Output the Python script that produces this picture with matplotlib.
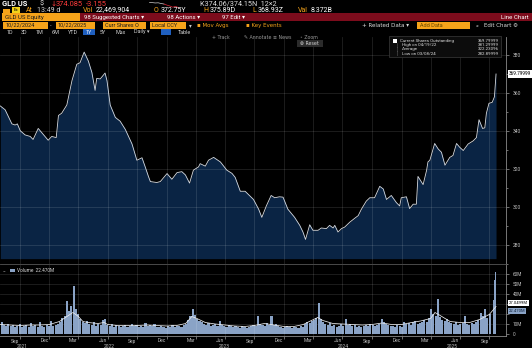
import matplotlib
matplotlib.use("Agg")
import matplotlib.pyplot as plt
import matplotlib.transforms as mtransforms
from matplotlib.patches import Rectangle
import pandas as pd

plt.rcParams['font.family'] = ['Roboto', 'DejaVu Sans']

# ---- GLD US Equity: current shares outstanding (millions) ----
share_dates = [
    "2021-08-01", "2021-08-16", "2021-09-06", "2021-09-16", "2021-09-23", "2021-10-02",
    "2021-10-17", "2021-11-02", "2021-11-11", "2021-11-27", "2021-12-08", "2021-12-28",
    "2022-01-08", "2022-01-22", "2022-01-29", "2022-02-08", "2022-02-24", "2022-03-12",
    "2022-03-27", "2022-04-06", "2022-04-19", "2022-05-02", "2022-05-13", "2022-05-23",
    "2022-05-28", "2022-06-08", "2022-06-23", "2022-06-29", "2022-07-09", "2022-07-25",
    "2022-08-09", "2022-08-25", "2022-09-15", "2022-09-30", "2022-10-16", "2022-10-26",
    "2022-11-05", "2022-11-11", "2022-12-01", "2022-12-12", "2023-01-02", "2023-01-17",
    "2023-02-02", "2023-02-17", "2023-02-28", "2023-03-13", "2023-03-25", "2023-04-10",
    "2023-04-15", "2023-05-01", "2023-05-11", "2023-05-27", "2023-06-17", "2023-07-07",
    "2023-07-23", "2023-08-02", "2023-08-18", "2023-09-02", "2023-09-28", "2023-10-14",
    "2023-10-24", "2023-11-07", "2023-11-22", "2023-12-03", "2023-12-18", "2023-12-29",
    "2024-01-13", "2024-02-03", "2024-02-19", "2024-02-29", "2024-03-08", "2024-03-21",
    "2024-03-31", "2024-04-16", "2024-04-26", "2024-05-12", "2024-05-22", "2024-06-02",
    "2024-06-07", "2024-06-17", "2024-06-28", "2024-07-08", "2024-07-24", "2024-08-08",
    "2024-08-19", "2024-08-29", "2024-09-13", "2024-09-24", "2024-10-09", "2024-10-25",
    "2024-11-05", "2024-11-15", "2024-11-30", "2024-12-16", "2024-12-26", "2024-12-31",
    "2025-01-16", "2025-01-26", "2025-02-06", "2025-02-16", "2025-02-21", "2025-03-09",
    "2025-03-20", "2025-03-24", "2025-03-30", "2025-04-14", "2025-04-25", "2025-05-05",
    "2025-05-16", "2025-05-31", "2025-06-10", "2025-06-21", "2025-07-01", "2025-07-12",
    "2025-07-27", "2025-08-12", "2025-08-22", "2025-08-30", "2025-09-10", "2025-09-17",
    "2025-09-22", "2025-09-30", "2025-10-10", "2025-10-17", "2025-10-22",
]
share_values = [
    353.0, 351.0, 343.6, 343.0, 343.6, 340.0,
    337.8, 337.0, 335.4, 341.2, 339.0, 335.0,
    337.0, 336.4, 348.0, 349.2, 353.5, 366.3,
    374.9, 375.7, 381.3, 376.6, 370.6, 361.2,
    367.5, 367.2, 370.3, 366.3, 353.5, 347.0,
    345.0, 340.7, 333.0, 324.5, 325.8, 321.0,
    316.0, 313.3, 312.8, 313.3, 317.5, 314.5,
    318.0, 318.5, 316.8, 312.5, 319.3, 321.0,
    322.7, 321.4, 324.5, 326.0, 323.6, 319.3,
    317.6, 315.5, 308.2, 308.2, 303.9, 298.8,
    294.5, 300.5, 306.0, 304.8, 305.3, 305.1,
    298.8, 294.5, 290.3, 286.8, 282.9, 290.6,
    287.7, 287.7, 288.9, 288.6, 290.3, 288.9,
    290.3, 286.8, 288.6, 289.4, 292.0, 294.0,
    295.4, 298.8, 303.0, 304.8, 304.8, 310.8,
    309.4, 303.9, 306.0, 302.2, 300.5, 304.8,
    305.3, 299.1, 301.4, 301.4, 316.0, 311.7,
    319.3, 323.6, 324.5, 333.3, 330.4, 328.7,
    321.9, 326.0, 327.0, 333.3, 331.3, 329.6,
    333.0, 334.7, 336.4, 345.8, 341.2, 341.5,
    349.2, 354.4, 354.9, 357.8, 369.8,
]

# ---- Volume (millions): weekly bars, then the latest sessions ----
weekly_volume_start = "2021-08-02"
weekly_volume = [
    12, 9, 8, 10, 8,
    9, 7, 8, 10, 7, 8, 9, 7,
    11, 8, 9, 7, 12, 8, 7, 9, 8,
    13, 8, 9, 10, 12, 16, 18,
    33, 23, 28, 48, 25, 20, 15,
    12, 11, 13, 10, 9, 12, 8, 10, 9,
    14, 15, 9, 8, 10, 7, 9, 8,
    7, 8, 9, 7, 8, 10, 8, 9, 7,
    8, 7, 11, 8, 9, 8, 10, 7,
    7, 8, 7, 6, 8, 7, 9, 7, 8,
    8, 7, 9, 10, 14, 18, 25, 19, 15,
    13, 12, 10, 9, 11, 8, 9, 10,
    8, 13, 9, 8, 7, 9, 8, 7, 8,
    7, 6, 8, 7, 6, 7, 8, 9, 8,
    18, 10, 9, 8, 11, 9, 18, 9,
    10, 8, 7, 6, 7, 8, 7, 6, 7,
    7, 6, 8, 7, 10, 12, 11, 13, 14,
    16, 31, 15, 12, 10, 9, 11, 8,
    9, 7, 8, 10, 8, 14.5, 9, 10, 8,
    9, 7, 8, 7, 8, 9, 8, 10, 9,
    8, 9, 10, 14.5, 12, 10, 9, 8,
    8, 7, 9, 8, 7, 12, 10, 11, 9,
    12, 13, 10, 11, 12, 14, 12, 16,
    25, 20, 18, 35, 17, 14, 13, 15, 12,
    11, 10, 12, 9, 10, 11, 18, 10,
    9, 11, 10, 12, 14, 21, 18, 25,
    16, 20,
]
recent_days = ["2025-10-13", "2025-10-14", "2025-10-15", "2025-10-16",
               "2025-10-17", "2025-10-20", "2025-10-21", "2025-10-22"]
recent_volume = [25, 34, 30, 38, 54, 30, 62, 22.47]

# volume moving average (millions)
ma_dates = [
    "2021-08-01", "2021-09-01", "2021-10-01", "2021-11-01", "2021-12-01", "2022-01-01",
    "2022-02-01", "2022-03-01", "2022-03-15", "2022-04-01", "2022-04-15", "2022-05-01",
    "2022-06-01", "2022-06-20", "2022-07-01", "2022-08-01", "2022-09-01", "2022-10-01",
    "2022-11-01", "2022-12-01", "2023-01-01", "2023-02-01", "2023-03-01", "2023-03-20",
    "2023-04-05", "2023-05-01", "2023-06-01", "2023-07-01", "2023-08-01", "2023-09-01",
    "2023-10-01", "2023-11-01", "2023-12-01", "2024-01-01", "2024-02-01", "2024-03-01",
    "2024-03-20", "2024-04-15", "2024-05-01", "2024-06-01", "2024-07-01", "2024-08-01",
    "2024-09-01", "2024-10-01", "2024-11-01", "2024-12-01", "2025-01-01", "2025-02-01",
    "2025-03-01", "2025-04-01", "2025-04-15", "2025-05-01", "2025-06-01", "2025-07-01",
    "2025-08-01", "2025-09-01", "2025-10-01", "2025-10-22",
]
ma_values = [
    9, 8.5, 8, 8.5, 8.5, 9,
    12, 18, 21, 17, 12, 11,
    10, 11, 9, 8, 8, 8,
    8.5, 8, 7.5, 8, 10, 17,
    15, 11, 9.5, 8.5, 7.5, 7,
    8, 10, 8.5, 7, 7, 9,
    12, 16, 13, 10, 9.5, 9,
    8.5, 9, 10.5, 9, 9, 11,
    12.5, 15, 21, 18, 12, 11,
    11, 14, 19, 27.05,
]

price_ticks = [280, 300, 320, 340, 360, 380]
volume_ticks = [0, 10, 20, 30, 40, 50, 60]
# 20M and 30M sit under the value tags, so they carry no label
volume_tick_labels = ["0", "10M", "", "", "40M", "50M", "60M"]
month_names = {3: "Mar", 6: "Jun", 9: "Sep", 12: "Dec"}
year_labels = ["2021", "2022", "2023", "2024", "2025"]
year_label_dates = ["2021-10-08", "2022-07-06", "2023-06-28", "2024-07-04", "2025-06-08"]

legend_rows = [
    ("Current Shares Outstanding", "369.79999"),
    ("High on 04/19/22", "381.29999"),
    ("Average", "322.23096"),
    ("Low on 03/08/24", "282.89999"),
]

# ---- palette ----
BG = "black"
NAVY = "#0a2444"
LINE = "#d6dbe2"
VOLBAR = "#8aa3c6"
ORANGE = "#f5a31a"
DARKRED = "#7c0c1c"
GRID = (1, 1, 1, 0.13)
AXIS_TXT = "#bfbfbf"

W, H = 532, 348
fig = plt.figure(figsize=(W / 100, H / 100), dpi=100, facecolor=BG)


def px_text(x, y, s, color="white", size=4.2, ha="left", va="center", **kw):
    fig.text(x / W, 1 - y / H, s, color=color, fontsize=size, ha=ha, va=va, **kw)


def px_rect(x0, y0, x1, y1, color, z=0, **kw):
    fig.patches.append(Rectangle((x0 / W, 1 - y1 / H), (x1 - x0) / W, (y1 - y0) / H,
                                 transform=fig.transFigure, facecolor=color,
                                 zorder=z, **kw))


# ---- header rows ----
px_text(2, 4, "GLD US", size=5.4, weight="bold")
px_text(40, 4, "$", size=5.2, color="#dddddd")
px_text(50, 4, "\u2193", size=5.2, color="#ff3b3b", family=["DejaVu Sans"])
px_text(56, 4, "374.085", size=5.4, color="#ff3b3b")
px_text(86, 4, "-3.155", size=5.4, color="#ff3b3b")
px_text(200, 4, "K374.06/374.15N  12\u00d72", size=5.2, color="#dddddd")

spark_ax = fig.add_axes([148 / W, 1 - 8 / H, 32 / W, 6 / H])
spark_vals = [377.2, 377.0, 376.8, 376.9, 376.5, 376.2, 375.6, 375.1, 374.4, 374.9, 374.1]
spark_ax.plot(range(6), spark_vals[:6], color="#cfcfcf", lw=0.5)
spark_ax.plot(range(5, 11), spark_vals[5:], color="#e0283a", lw=0.5)
spark_ax.axis("off")

px_rect(3, 8.5, 10, 12.5, ORANGE)
px_rect(12, 7.5, 20, 12.5, "#f2d21a")
px_text(16, 10, "Ex", size=3.2, color="black", ha="center")
px_text(26, 10, "At", size=5, color=ORANGE)
px_text(37, 10, "13:49 d", size=5, color="#d0d0d0")
px_text(83, 10, "Vol", size=5, color=ORANGE)
px_text(96, 10, "22,469,904", size=5, color="white")
px_text(154, 10, "O", size=5, color=ORANGE)
px_text(161, 10, "372.75Y", size=5, color="white")
px_text(203, 10, "H", size=5, color=ORANGE)
px_text(210, 10, "375.89D", size=5, color="white")
px_text(252, 10, "L", size=5, color=ORANGE)
px_text(258, 10, "368.93Z", size=5, color="white")
px_text(298, 10, "Val", size=5, color=ORANGE)
px_text(311, 10, "8.372B", size=5, color="white")

px_rect(2, 13.5, 80, 21, ORANGE)
px_text(5, 17.3, "GLD US Equity", size=4.4, color="#1a1a1a")
px_rect(80, 13.5, 532, 21, DARKRED)
px_text(84, 17.3, "98 Suggested Charts \u25be", size=4.3)
px_text(167, 17.3, "98 Actions \u25be", size=4.3)
px_text(222, 17.3, "97 Edit \u25be", size=4.3)
px_text(529, 17.3, "Line Chart", size=4.4, ha="right")

for x0, x1, label in [(3, 48, "10/22/2024"), (56, 95, "10/22/2025"),
                      (103, 146, "Curr Shares O"), (150, 186, "Local CCY")]:
    px_rect(x0, 22, x1, 28.5, ORANGE)
    px_text(x0 + 2, 25.3, label, size=4.0, color="#1a1a1a")
px_text(51, 25.3, "-", size=4, color="#cccccc", ha="center")
px_text(189, 25.3, "\u25be", size=4, color="#cccccc", family=["DejaVu Sans"])
px_text(197, 25.3, "\u25aa Mov Avgs", size=4.0, color=ORANGE, family=["DejaVu Sans"])
px_text(246, 25.3, "\u25aa Key Events", size=4.0, color=ORANGE, family=["DejaVu Sans"])
px_text(362, 25.3, "+ Related Data \u25be", size=4.0, color="#dddddd", family=["DejaVu Sans"])
px_rect(417, 22, 470, 28.5, ORANGE)
px_text(420, 25.3, "Add Data", size=4.0, color="#6a4a00")
px_text(476, 25.3, "\u00ab", size=4.2, color="#dddddd")
px_text(484, 25.3, "Edit Chart \u2699", size=4.0, color="#dddddd", family=["DejaVu Sans"])

for x, label in [(7, "1D"), (21, "3D"), (36, "1M"), (52, "6M"), (68, "YTD"),
                 (100, "5Y"), (115, "Max"), (134, "Daily \u25be"), (178, "Table")]:
    px_text(x, 32, label, size=3.9, color="#d0d0d0")
px_rect(83, 29, 95, 35, "#1f5fbf")
px_text(89, 32, "1Y", size=3.9, color="white", ha="center")
px_rect(161, 29, 171, 35, "#1f5fbf")

# ---- price panel ----
y_top, y_bot = 37, 264
ax = fig.add_axes([0, 1 - y_bot / H, 506 / W, (y_bot - y_top) / H])
ax.set_facecolor(BG)
dates = pd.to_datetime(share_dates)
xmin, xmax = pd.Timestamp("2021-07-31"), pd.Timestamp("2025-11-22")
ymin = 380 - (y_bot - 55) / 1.95
ymax = 380 + (55 - y_top) / 1.95
ax.set_xlim(xmin, xmax)
ax.set_ylim(ymin, ymax)
ax.fill_between(dates, share_values, ymin, color=NAVY, lw=0, zorder=1)
ax.plot(dates, share_values, color=LINE, lw=0.6, zorder=4)

grid_dates = pd.date_range("2021-10-01", "2025-10-01", freq="3MS")
for d in grid_dates:
    ax.axvline(d, color=GRID, lw=0.6, zorder=3)
for v in price_ticks:
    ax.axhline(v, color=GRID, lw=0.6, zorder=3)

ax.yaxis.tick_right()
ax.set_yticks(price_ticks)
ax.set_yticks(range(270, 390, 10), minor=True)
ax.tick_params(axis="y", which="both", colors="#9a9a9a", labelcolor=AXIS_TXT,
               labelsize=3.6, length=2, width=0.5, pad=3)
ax.tick_params(axis="y", which="minor", length=1.5)
ax.set_xticks([])
for s in ("top", "left"):
    ax.spines[s].set_visible(False)
ax.spines["right"].set_color("#8a8a8a")
ax.spines["right"].set_linewidth(0.6)
ax.spines["bottom"].set_color("#555555")
ax.spines["bottom"].set_linewidth(0.6)

tag = mtransforms.blended_transform_factory(ax.transAxes, ax.transData)
ax.text(1.006, share_values[-1], "369.79999", transform=tag, fontsize=3.4,
        color="black", va="center", ha="left",
        bbox=dict(boxstyle="square,pad=0.25", fc="white", ec="none"), clip_on=False)

# chart toolbar overlay
for x, label in [(212, "+ Track"), (244, "\u270e Annotate"), (273, "\u2261 News"),
                 (300, "\u25e6 Zoom")]:
    px_text(x, 37.8, label, size=3.4, color="#9a9a9a", family=["DejaVu Sans"])
px_rect(297, 40.5, 323, 46.5, "#2b2b2b")
px_text(300, 43.5, "\u2297 Reset", size=3.4, color="#d0d0d0", family=["DejaVu Sans"])

# statistics box
px_rect(389, 36, 501, 57, "#0c0c0c", z=5, edgecolor="#3a3a3a", lw=0.5)
row_y = [41, 45.2, 49.4, 53.6]
px_rect(393, 39.5, 397, 43, "white", z=6)
for i, (name, val) in enumerate(legend_rows):
    fig.text((400 if i == 0 else 402) / W, 1 - row_y[i] / H, name, fontsize=3.2,
             color="#dcdcdc", va="center", ha="left", zorder=7)
    fig.text(499 / W, 1 - row_y[i] / H, val, fontsize=3.2, color="#dcdcdc",
             va="center", ha="right", zorder=7)
    if i > 0:
        fig.text(397 / W, 1 - row_y[i] / H, "\u2502", fontsize=3, color="#8a8a8a",
                 va="center", ha="center", zorder=7, family=["DejaVu Sans"])

# ---- volume panel ----
v_top, v_bot = 265, 336
axv = fig.add_axes([0, 1 - v_bot / H, 506 / W, (v_bot - v_top) / H])
axv.set_facecolor(BG)
axv.set_xlim(xmin, xmax)
vmin = -(v_bot - 333.5)
vmax = 333.5 - v_top
axv.set_ylim(vmin, vmax)

wk_dates = pd.date_range(weekly_volume_start, periods=len(weekly_volume), freq="7D")
axv.bar(wk_dates + pd.Timedelta(days=3), weekly_volume, width=6.5, color=VOLBAR,
        lw=0, zorder=2)
axv.bar(pd.to_datetime(recent_days), recent_volume, width=1.6, color=VOLBAR,
        lw=0, zorder=2)
axv.plot(pd.to_datetime(ma_dates), ma_values, color="#eeeeee", lw=0.55, zorder=4)

for d in grid_dates:
    axv.axvline(d, color=GRID, lw=0.6, zorder=3)
for v in volume_ticks[1:]:
    axv.axhline(v, color=GRID, lw=0.6, zorder=1)

axv.yaxis.tick_right()
axv.set_yticks(volume_ticks)
axv.set_yticklabels(volume_tick_labels)
axv.tick_params(axis="y", colors="#9a9a9a", labelcolor=AXIS_TXT, labelsize=3.4,
                length=2, width=0.5, pad=3)
axv.set_xticks(grid_dates)
axv.set_xticklabels([])
axv.tick_params(axis="x", colors="#9a9a9a", length=2, width=0.5)
for s in ("top", "left"):
    axv.spines[s].set_visible(False)
axv.spines["right"].set_color("#8a8a8a")
axv.spines["right"].set_linewidth(0.6)
axv.spines["bottom"].set_color("#8a8a8a")
axv.spines["bottom"].set_linewidth(0.6)

# value tags on the right edge of the volume panel (stacked so they do not collide)
vtag = mtransforms.blended_transform_factory(axv.transAxes, axv.transData)
axv.text(1.006, ma_values[-1] + 3.2, "27.0499M", transform=vtag, fontsize=3.0,
         color="black", va="center", ha="left",
         bbox=dict(boxstyle="square,pad=0.2", fc="white", ec="none"), clip_on=False)
axv.text(1.006, recent_volume[-1] - 0.3, "22.470M", transform=vtag, fontsize=3.0,
         color="#10223a", va="center", ha="left",
         bbox=dict(boxstyle="square,pad=0.2", fc=VOLBAR, ec="none"), clip_on=False)

px_text(3, 270.5, "\u2212", size=3.4, color="#9a9a9a")
px_rect(10, 268.8, 15, 272.3, VOLBAR, z=5)
px_text(17, 270.5, "Volume  22.470M", size=3.4, color="#d8d8d8")

# month labels centred mid-month, year labels beneath
xt = mtransforms.blended_transform_factory(axv.transData, fig.transFigure)
for m_start in pd.date_range("2021-09-01", "2025-09-01", freq="3MS"):
    mid = m_start + pd.Timedelta(days=15)
    axv.text(mid, 1 - 341 / H, month_names[m_start.month], transform=xt, fontsize=3.5,
             color=AXIS_TXT, ha="center", va="center")
for lbl, d in zip(year_labels, year_label_dates):
    axv.text(pd.Timestamp(d), 1 - 346.5 / H, lbl, transform=xt, fontsize=3.5,
             color=AXIS_TXT, ha="center", va="center")

fig.savefig("out.png", dpi=100, facecolor=BG)
